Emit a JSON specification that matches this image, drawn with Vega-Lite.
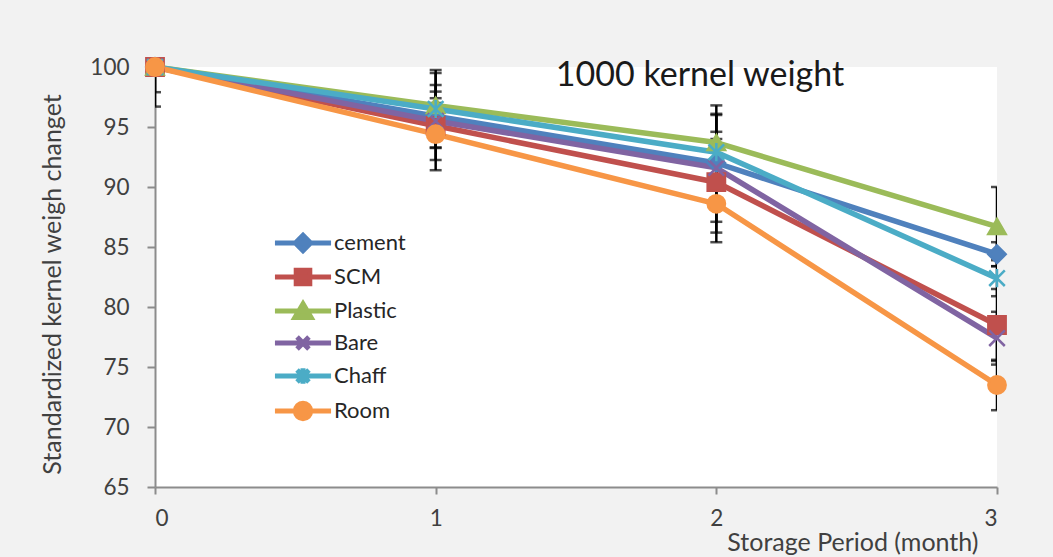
{
  "$schema": "https://vega.github.io/schema/vega-lite/v6.json",
  "width": 842,
  "height": 420,
  "autosize": "none",
  "padding": {"left": 155, "top": 67, "right": 56, "bottom": 70},
  "background": "#f2f2f2",
  "config": {
    "view": {"fill": "white", "stroke": null},
    "font": "Lato",
    "axis": {"grid": false, "labelFont": "Lato", "titleFont": "Lato", "labelFontSize": 22.5, "labelColor": "#404040", "titleColor": "#404040", "titleFontWeight": "normal", "domainColor": "#8c8c8c", "tickColor": "#8c8c8c", "domainWidth": 2, "tickWidth": 2}
  },
  "title": {"text": "1000 kernel weight", "font": "Lato", "fontSize": 34, "fontWeight": "normal", "color": "#1a1a1a", "anchor": "middle", "frame": "group", "offset": 0, "dx": 124, "dy": 67, "baseline": "alphabetic"},
  "data": {"values": [
    {"s": "cement", "m": 0, "v": 100, "lo": 99.5, "hi": 100.5},
    {"s": "cement", "m": 1, "v": 95.9, "lo": 93.3, "hi": 98.5},
    {"s": "cement", "m": 2, "v": 92.0, "lo": 90.0, "hi": 94.0},
    {"s": "cement", "m": 3, "v": 84.4, "lo": 83.4, "hi": 85.4},
    {"s": "SCM", "m": 0, "v": 100, "lo": 99.5, "hi": 100.5},
    {"s": "SCM", "m": 1, "v": 95.1, "lo": 92.25, "hi": 97.95},
    {"s": "SCM", "m": 2, "v": 90.4, "lo": 86.2, "hi": 94.6},
    {"s": "SCM", "m": 3, "v": 78.5, "lo": 75.5, "hi": 81.5},
    {"s": "Plastic", "m": 0, "v": 100, "lo": 96.7, "hi": 103.3},
    {"s": "Plastic", "m": 1, "v": 96.8, "lo": 94.1, "hi": 99.5},
    {"s": "Plastic", "m": 2, "v": 93.7, "lo": 90.6, "hi": 96.8},
    {"s": "Plastic", "m": 3, "v": 86.7, "lo": 83.4, "hi": 90.0},
    {"s": "Bare", "m": 0, "v": 100, "lo": 99.5, "hi": 100.5},
    {"s": "Bare", "m": 1, "v": 95.5, "lo": 94.0, "hi": 97.0},
    {"s": "Bare", "m": 2, "v": 91.6, "lo": 87.1, "hi": 96.1},
    {"s": "Bare", "m": 3, "v": 77.4, "lo": 75.2, "hi": 79.6},
    {"s": "Chaff", "m": 0, "v": 100, "lo": 97.9, "hi": 102.1},
    {"s": "Chaff", "m": 1, "v": 96.5, "lo": 93.25, "hi": 99.75},
    {"s": "Chaff", "m": 2, "v": 92.9, "lo": 89.8, "hi": 96.0},
    {"s": "Chaff", "m": 3, "v": 82.4, "lo": 80.9, "hi": 83.9},
    {"s": "Room", "m": 0, "v": 100, "lo": 99.5, "hi": 100.5},
    {"s": "Room", "m": 1, "v": 94.4, "lo": 91.4, "hi": 97.4},
    {"s": "Room", "m": 2, "v": 88.6, "lo": 85.4, "hi": 91.8},
    {"s": "Room", "m": 3, "v": 73.5, "lo": 71.4, "hi": 75.6}
  ]},
  "layer": [
    {
      "mark": {"type": "errorbar", "ticks": {"size": 12, "thickness": 2.5, "color": "#000000"}, "rule": {"color": "#000000", "strokeWidth": 2.5}, "thickness": 2.5, "color": "#000000", "clip": true},
      "encoding": {
        "x": {"field": "m", "type": "quantitative", "scale": {"domain": [0, 3], "nice": false, "zero": false},
              "axis": {"values": [0, 1, 2, 3], "format": "d", "tickSize": 7, "labelPadding": 13, "title": "Storage Period (month)", "titleFontSize": 25, "titleX": 823, "titleY": 55, "titleAlign": "right", "titleBaseline": "middle"}},
        "y": {"field": "lo", "type": "quantitative", "scale": {"domain": [65, 100], "nice": false, "zero": false},
              "axis": {"values": [65, 70, 75, 80, 85, 90, 95, 100], "tickSize": 8, "labelPadding": 18, "title": "Standardized kernel weigh changet", "titleFontSize": 25, "titleX": -103, "titleY": 217, "titleAngle": 270, "titleAlign": "center", "titleBaseline": "middle"}},
        "y2": {"field": "hi"}
      }
    },
    {
      "mark": {"type": "line", "strokeWidth": 5.5, "strokeJoin": "round"},
      "encoding": {
        "x": {"field": "m", "type": "quantitative", "axis": {"values": [0, 1, 2, 3], "format": "d", "tickSize": 7, "labelPadding": 13, "title": "Storage Period (month)", "titleFontSize": 25, "titleX": 823, "titleY": 55, "titleAlign": "right", "titleBaseline": "middle"}},
        "y": {"field": "v", "type": "quantitative", "axis": {"values": [65, 70, 75, 80, 85, 90, 95, 100], "tickSize": 8, "labelPadding": 18, "title": "Standardized kernel weigh changet", "titleFontSize": 25, "titleX": -103, "titleY": 217, "titleAngle": 270, "titleAlign": "center", "titleBaseline": "middle"}},
        "stroke": {"field": "s", "type": "nominal", "sort": null,
          "scale": {"domain": ["cement", "SCM", "Plastic", "Bare", "Chaff", "Room"], "range": ["#4F81BD", "#C0504D", "#9BBB59", "#8064A2", "#4BACC6", "#F79646"]},
          "legend": {"orient": "none", "legendX": 137, "legendY": 165, "title": null, "padding": 0, "labelFont": "Lato", "labelFontSize": 22, "labelColor": "#262626", "symbolSize": 289, "symbolStrokeWidth": 5, "labelOffset": 20, "rowPadding": -1, "symbolType": "stroke",
            "encode": {"symbols": {"update": {
              "shape": {"signal": "datum.value === 'cement' ? 'M-3.3,0L3.3,0M0,-0.9L0.9,0L0,0.9L-0.9,0Z' : datum.value === 'SCM' ? 'M-3.3,0L3.3,0M-0.8,-0.8L0.8,-0.8L0.8,0.8L-0.8,0.8Z' : datum.value === 'Plastic' ? 'M-3.3,0L3.3,0M0,-0.85L0.95,0.75L-0.95,0.75Z' : datum.value === 'Bare' ? 'M-3.3,0L3.3,0M-0.7,-0.7L0.7,0.7M0.7,-0.7L-0.7,0.7' : datum.value === 'Chaff' ? 'M-3.3,0L3.3,0M-0.7,-0.7L0.7,0.7M0.7,-0.7L-0.7,0.7M0,-0.9L0,0.9' : 'M-3.3,0L3.3,0M-0.9,0A0.9,0.9,0,1,0,0.9,0A0.9,0.9,0,1,0,-0.9,0Z'"},
              "fill": {"scale": "stroke", "field": "value"},
              "stroke": {"scale": "stroke", "field": "value"},
              "strokeWidth": {"value": 5},
              "opacity": {"value": 1}
            }}}
          }
        }
      }
    },
    {
      "mark": {"type": "point", "filled": true, "size": 300, "strokeWidth": 2.5, "opacity": 1},
      "encoding": {
        "x": {"field": "m", "type": "quantitative", "axis": {"values": [0, 1, 2, 3], "format": "d", "tickSize": 7, "labelPadding": 13, "title": "Storage Period (month)", "titleFontSize": 25, "titleX": 823, "titleY": 55, "titleAlign": "right", "titleBaseline": "middle"}},
        "y": {"field": "v", "type": "quantitative", "axis": {"values": [65, 70, 75, 80, 85, 90, 95, 100], "tickSize": 8, "labelPadding": 18, "title": "Standardized kernel weigh changet", "titleFontSize": 25, "titleX": -103, "titleY": 217, "titleAngle": 270, "titleAlign": "center", "titleBaseline": "middle"}},
        "fill": {"field": "s", "type": "nominal", "sort": null, "legend": null,
          "scale": {"domain": ["cement", "SCM", "Plastic", "Bare", "Chaff", "Room"], "range": ["#4F81BD", "#C0504D", "#9BBB59", "#8064A2", "#4BACC6", "#F79646"]}},
        "stroke": {"field": "s", "type": "nominal", "sort": null, "legend": null},
        "shape": {"field": "s", "type": "nominal", "sort": null, "legend": null,
          "scale": {"domain": ["Room", "Chaff", "Bare", "Plastic", "SCM", "cement"], "range": ["circle", "M-0.9,-0.9L0.9,0.9M0.9,-0.9L-0.9,0.9M0,-1.05L0,1.05", "M-0.9,-0.9L0.9,0.9M0.9,-0.9L-0.9,0.9", "triangle-up", "square", "diamond"]}}
      }
    }
  ]
}
